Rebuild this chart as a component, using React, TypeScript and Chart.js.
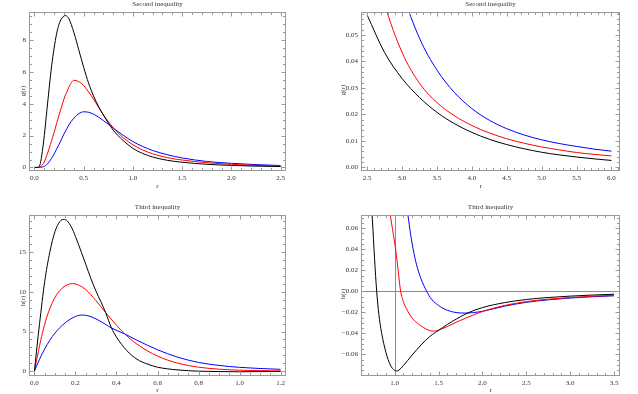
import { useEffect, useRef } from "react";
import { Chart, registerables } from "chart.js";

Chart.register(...registerables);

const PAGE_W = 638;
const PAGE_H = 394;

// ---------------- Panel 1: Second inequality, r in [0, 2.5] ----------------
const p1R = [0, 0.04, 0.06, 0.08, 0.1, 0.125, 0.15, 0.175, 0.2, 0.225, 0.25, 0.275, 0.3, 0.315, 0.33, 0.35, 0.4, 0.45, 0.5, 0.55, 0.6, 0.65, 0.7, 0.75, 0.8, 0.85, 0.9, 1.0, 1.1, 1.2, 1.35, 1.5, 1.75, 2.0, 2.25, 2.5];
const p1Black = [0, 0.02, 0.25, 1.0, 2.0, 3.5, 5.0, 6.4, 7.5, 8.4, 9.0, 9.35, 9.52, 9.55, 9.5, 9.35, 8.5, 7.4, 6.3, 5.3, 4.5, 3.85, 3.3, 2.8, 2.35, 2.0, 1.7, 1.2, 0.88, 0.66, 0.45, 0.33, 0.2, 0.13, 0.085, 0.058];
const p1Red = [0, 0, 0.05, 0.15, 0.35, 0.75, 1.2, 1.7, 2.2, 2.75, 3.3, 3.8, 4.3, 4.55, 4.75, 5.05, 5.48, 5.4, 5.15, 4.75, 4.3, 3.8, 3.3, 2.9, 2.5, 2.17, 1.88, 1.43, 1.1, 0.86, 0.62, 0.47, 0.3, 0.2, 0.13, 0.09];
const p1Blue = [0, 0, 0.01, 0.03, 0.07, 0.18, 0.36, 0.58, 0.85, 1.15, 1.45, 1.78, 2.1, 2.28, 2.45, 2.67, 3.1, 3.38, 3.5, 3.47, 3.35, 3.17, 2.95, 2.72, 2.48, 2.25, 2.03, 1.63, 1.32, 1.07, 0.8, 0.6, 0.38, 0.26, 0.18, 0.125];
const p1XTicks = [0, 0.5, 1, 1.5, 2, 2.5];
const p1XLabels = ["0.0", "0.5", "1.0", "1.5", "2.0", "2.5"];
const p1YTicks = [0, 2, 4, 6, 8];
const p1YLabels = ["0", "2", "4", "6", "8"];

// ---------------- Panel 2: Second inequality, r in [2.5, 6] ----------------
const p2R = [2.5, 2.75, 3.0, 3.25, 3.5, 3.75, 4.0, 4.25, 4.5, 4.75, 5.0, 5.25, 5.5, 5.75, 6.0];
const p2Black = [0.0576, 0.0434, 0.0336, 0.0264, 0.0208, 0.0165, 0.0132, 0.0106, 0.0086, 0.007, 0.0057, 0.0047, 0.0039, 0.0032, 0.0026];
const p2Red = [0.09, 0.062, 0.0435, 0.0318, 0.0245, 0.0195, 0.0158, 0.013, 0.0108, 0.0091, 0.0077, 0.0066, 0.0056, 0.0049, 0.0043];
const p2Blue = [0.135, 0.094, 0.067, 0.0488, 0.0368, 0.0283, 0.0222, 0.0178, 0.0146, 0.0122, 0.0104, 0.009, 0.0079, 0.0069, 0.0061];
const p2XTicks = [2.5, 3, 3.5, 4, 4.5, 5, 5.5, 6];
const p2XLabels = ["2.5", "3.0", "3.5", "4.0", "4.5", "5.0", "5.5", "6.0"];
const p2YTicks = [0, 0.01, 0.02, 0.03, 0.04, 0.05];
const p2YLabels = ["0.00", "0.01", "0.02", "0.03", "0.04", "0.05"];

// ---------------- Panel 3: Third inequality, r in [0, 1.2] ----------------
const p3BlackR = [0, 0.01, 0.025, 0.05, 0.075, 0.1, 0.125, 0.143, 0.16, 0.18, 0.2, 0.229, 0.25, 0.275, 0.3, 0.325, 0.347, 0.375, 0.4, 0.45, 0.5, 0.55, 0.6, 0.7, 0.8, 0.9, 1.0, 1.1, 1.2];
const p3Black = [0, 2.5, 6.0, 11.3, 15.0, 17.6, 18.9, 19.15, 18.95, 18.2, 17.0, 15.0, 13.5, 11.7, 10.1, 8.7, 7.4, 5.5, 4.3, 2.6, 1.5, 0.9, 0.5, 0.15, 0.0, -0.05, -0.08, -0.06, -0.04];
const p3RedR = [0, 0.02, 0.04, 0.06, 0.08, 0.1, 0.125, 0.15, 0.185, 0.22, 0.25, 0.3, 0.347, 0.4, 0.44, 0.5, 0.6, 0.7, 0.8, 0.9, 1.0, 1.1, 1.2];
const p3Red = [0, 2.6, 4.9, 6.8, 8.2, 9.3, 10.2, 10.75, 11.05, 10.8, 10.3, 8.9, 7.4, 5.8, 4.7, 3.4, 1.9, 1.0, 0.5, 0.25, 0.12, 0.06, 0.03];
const p3BlueR = [0, 0.025, 0.05, 0.075, 0.1, 0.15, 0.2, 0.229, 0.26, 0.3, 0.35, 0.375, 0.44, 0.5, 0.6, 0.7, 0.8, 0.9, 1.0, 1.1, 1.2];
const p3Blue = [0, 1.5, 2.8, 3.9, 4.8, 6.1, 6.9, 7.08, 7.0, 6.6, 5.85, 5.45, 4.7, 3.9, 2.7, 1.75, 1.1, 0.72, 0.48, 0.33, 0.23];
const p3XTicks = [0, 0.2, 0.4, 0.6, 0.8, 1.0, 1.2];
const p3XLabels = ["0.0", "0.2", "0.4", "0.6", "0.8", "1.0", "1.2"];
const p3YTicks = [0, 5, 10, 15];
const p3YLabels = ["0", "5", "10", "15"];

// ---------------- Panel 4: Third inequality, r in [0.7, 3.5] ----------------
const p4BlackR = [0.72, 0.746, 0.77, 0.795, 0.82, 0.85, 0.9, 0.95, 1.0, 1.02, 1.05, 1.1, 1.2, 1.3, 1.4, 1.53, 1.6, 1.7, 1.835, 2.0, 2.25, 2.5, 2.75, 3.0, 3.25, 3.5];
const p4Black = [0.1, 0.068, 0.032, 0.0, -0.022, -0.039, -0.058, -0.07, -0.0752, -0.0757, -0.0748, -0.0705, -0.0605, -0.051, -0.043, -0.0355, -0.0315, -0.0265, -0.0205, -0.0155, -0.0108, -0.0078, -0.0059, -0.0046, -0.0036, -0.0028];
const p4RedR = [0.93, 0.95, 1.0, 1.03, 1.068, 1.1, 1.15, 1.2, 1.27, 1.33, 1.4, 1.45, 1.5, 1.6, 1.7, 1.8, 2.0, 2.25, 2.5, 2.75, 3.0, 3.25, 3.5];
const p4Red = [0.082, 0.072, 0.046, 0.027, 0.0, -0.01, -0.019, -0.0255, -0.031, -0.0345, -0.0373, -0.0378, -0.0368, -0.0335, -0.0295, -0.0258, -0.0192, -0.0135, -0.0098, -0.0075, -0.0059, -0.0047, -0.0038];
const p4BlueR = [1.13, 1.152, 1.18, 1.22, 1.26, 1.3, 1.364, 1.42, 1.5, 1.6, 1.7, 1.8, 1.9, 2.0, 2.25, 2.5, 2.75, 3.0, 3.25, 3.5];
const p4Blue = [0.085, 0.072, 0.055, 0.036, 0.022, 0.012, 0.0, -0.0075, -0.0135, -0.018, -0.0202, -0.0207, -0.0202, -0.019, -0.0142, -0.0105, -0.0081, -0.0064, -0.0052, -0.0043];
const p4XTicks = [1, 1.5, 2, 2.5, 3, 3.5];
const p4XLabels = ["1.0", "1.5", "2.0", "2.5", "3.0", "3.5"];
const p4YTicks = [-0.06, -0.04, -0.02, 0, 0.02, 0.04, 0.06];
const p4YLabels = ["\u22120.06", "\u22120.04", "\u22120.02", "0.00", "0.02", "0.04", "0.06"];

// ---------------- styles ----------------
const BLACK = "#000000";
const RED = "#ff0000";
const BLUE = "#0000ff";
const FRAME_COLOR = "#9a9a9a";
const AXIS_COLOR = "#8a8a8a";
const TEXT_COLOR = "#333333";
const FONT_FAMILY = '"Liberation Serif", "DejaVu Serif", serif';
const FONT_SIZE = 7;
const Y_AXIS_W = 28;
const X_AXIS_H = 14;

type Series = { xs: number[]; ys: number[]; color: string };
type Panel = {
  frame: [number, number, number, number];
  xRange: [number, number];
  yRange: [number, number];
  xTicks: number[];
  xLabels: string[];
  yTicks: number[];
  yLabels: string[];
  xMinor: number;
  yMinor: number;
  title: string;
  titlePos: [number, number];
  xTitle: string;
  xTitlePos: [number, number];
  yTitle: string;
  yTitlePos: [number, number];
  axesOrigin?: [number, number];
  series: Series[];
};

const PANELS: Panel[] = [
  {
    frame: [29.5, 12.5, 285.5, 170.5],
    xRange: [-0.05, 2.55],
    yRange: [-0.19, 9.74],
    xTicks: p1XTicks, xLabels: p1XLabels, yTicks: p1YTicks, yLabels: p1YLabels,
    xMinor: 0.1, yMinor: 0.5,
    title: "Second inequality", titlePos: [157.5, 4.5],
    xTitle: "r", xTitlePos: [157.5, 186.5],
    yTitle: "g(r)", yTitlePos: [23, 91],
    series: [
      { xs: p1R, ys: p1Black, color: BLACK },
      { xs: p1R, ys: p1Red, color: RED },
      { xs: p1R, ys: p1Blue, color: BLUE },
    ],
  },
  {
    frame: [361.5, 12.5, 619.5, 170.5],
    xRange: [2.42, 6.115],
    yRange: [-0.0012, 0.0585],
    xTicks: p2XTicks, xLabels: p2XLabels, yTicks: p2YTicks, yLabels: p2YLabels,
    xMinor: 0.1, yMinor: 0.002,
    title: "Second inequality", titlePos: [490.5, 4.5],
    xTitle: "r", xTitlePos: [481, 186.5],
    yTitle: "g(r)", yTitlePos: [343, 90],
    series: [
      { xs: p2R, ys: p2Black, color: BLACK },
      { xs: p2R, ys: p2Red, color: RED },
      { xs: p2R, ys: p2Blue, color: BLUE },
    ],
  },
  {
    frame: [29.5, 215.5, 285.5, 375.5],
    xRange: [-0.024, 1.224],
    yRange: [-0.55, 19.64],
    xTicks: p3XTicks, xLabels: p3XLabels, yTicks: p3YTicks, yLabels: p3YLabels,
    xMinor: 0.05, yMinor: 1,
    title: "Third inequality", titlePos: [157.5, 207],
    xTitle: "r", xTitlePos: [157.5, 390.5],
    yTitle: "h(r)", yTitlePos: [23, 301],
    series: [
      { xs: p3BlackR, ys: p3Black, color: BLACK },
      { xs: p3RedR, ys: p3Red, color: RED },
      { xs: p3BlueR, ys: p3Blue, color: BLUE },
    ],
  },
  {
    frame: [361.5, 215.5, 619.5, 375.5],
    xRange: [0.622, 3.562],
    yRange: [-0.08, 0.072],
    xTicks: p4XTicks, xLabels: p4XLabels, yTicks: p4YTicks, yLabels: p4YLabels,
    xMinor: 0.1, yMinor: 0.005,
    title: "Third inequality", titlePos: [490.5, 207],
    xTitle: "r", xTitlePos: [491, 390.5],
    yTitle: "h(r)", yTitlePos: [343, 294],
    axesOrigin: [1, 0],
    series: [
      { xs: p4BlackR, ys: p4Black, color: BLACK },
      { xs: p4RedR, ys: p4Red, color: RED },
      { xs: p4BlueR, ys: p4Blue, color: BLUE },
    ],
  },
];

function minorValues(min: number, max: number, step: number): number[] {
  const out: number[] = [];
  const start = Math.ceil(min / step - 1e-9);
  const end = Math.floor(max / step + 1e-9);
  for (let k = start; k <= end; k++) out.push(k * step);
  return out;
}

const framePlugin = {
  id: "mmaFrame",
  beforeDatasetsDraw(chart: any) {
    const p: Panel = chart.config.options.plugins.mmaFrame.panel;
    if (!p.axesOrigin) return;
    const { ctx, chartArea: a, scales } = chart;
    const px = Math.round(scales.x.getPixelForValue(p.axesOrigin[0])) + 0.5;
    const py = Math.round(scales.y.getPixelForValue(p.axesOrigin[1])) + 0.5;
    ctx.save();
    ctx.strokeStyle = AXIS_COLOR;
    ctx.lineWidth = 1;
    ctx.beginPath();
    ctx.moveTo(a.left, py);
    ctx.lineTo(a.right, py);
    ctx.moveTo(px, a.top);
    ctx.lineTo(px, a.bottom);
    ctx.stroke();
    ctx.restore();
  },
  afterDraw(chart: any) {
    const p: Panel = chart.config.options.plugins.mmaFrame.panel;
    const { ctx, chartArea: a, scales } = chart;
    const xs = scales.x;
    const ys = scales.y;
    ctx.save();
    ctx.strokeStyle = FRAME_COLOR;
    ctx.lineWidth = 1;
    ctx.strokeRect(a.left, a.top, a.right - a.left, a.bottom - a.top);
    const MAJ = 4;
    const MIN = 2.5;
    ctx.beginPath();
    const drawX = (v: number, len: number) => {
      const x = Math.round(xs.getPixelForValue(v)) + 0.5;
      if (x < a.left || x > a.right) return;
      ctx.moveTo(x, a.bottom);
      ctx.lineTo(x, a.bottom - len);
      ctx.moveTo(x, a.top);
      ctx.lineTo(x, a.top + len);
    };
    const drawY = (v: number, len: number) => {
      const y = Math.round(ys.getPixelForValue(v)) + 0.5;
      if (y < a.top || y > a.bottom) return;
      ctx.moveTo(a.left, y);
      ctx.lineTo(a.left + len, y);
      ctx.moveTo(a.right, y);
      ctx.lineTo(a.right - len, y);
    };
    const isMajor = (v: number, arr: number[], step: number) =>
      arr.some((t) => Math.abs(t - v) < step * 0.01);
    minorValues(p.xRange[0], p.xRange[1], p.xMinor).forEach((v) => {
      if (!isMajor(v, p.xTicks, p.xMinor)) drawX(v, MIN);
    });
    minorValues(p.yRange[0], p.yRange[1], p.yMinor).forEach((v) => {
      if (!isMajor(v, p.yTicks, p.yMinor)) drawY(v, MIN);
    });
    p.xTicks.forEach((v) => drawX(v, MAJ));
    p.yTicks.forEach((v) => drawY(v, MAJ));
    ctx.stroke();

    ctx.fillStyle = TEXT_COLOR;
    ctx.font = `${FONT_SIZE}px ${FONT_FAMILY}`;
    ctx.textAlign = "center";
    ctx.textBaseline = "middle";
    ctx.fillText(p.title, p.titlePos[0], p.titlePos[1]);
    ctx.fillText(p.xTitle, p.xTitlePos[0], p.xTitlePos[1]);
    ctx.translate(p.yTitlePos[0], p.yTitlePos[1]);
    ctx.rotate(-Math.PI / 2);
    ctx.fillText(p.yTitle, 0, 0);
    ctx.restore();
  },
};

function makeConfig(p: Panel): any {
  const tickFont = { family: FONT_FAMILY, size: FONT_SIZE };
  return {
    type: "scatter",
    data: {
      datasets: p.series.map((s) => ({
        data: s.xs.map((x, i) => ({ x, y: s.ys[i] })),
        showLine: true,
        borderColor: s.color,
        backgroundColor: s.color,
        borderWidth: 1,
        pointRadius: 0,
        cubicInterpolationMode: "monotone",
        fill: false,
      })),
    },
    options: {
      animation: false,
      responsive: false,
      events: [],
      layout: {
        padding: {
          left: p.frame[0] - Y_AXIS_W,
          top: p.frame[1],
          right: PAGE_W - p.frame[2],
          bottom: PAGE_H - p.frame[3] - X_AXIS_H,
        },
      },
      plugins: {
        legend: { display: false },
        tooltip: { enabled: false },
        title: { display: false },
        mmaFrame: { panel: p },
      },
      scales: {
        x: {
          type: "linear",
          min: p.xRange[0],
          max: p.xRange[1],
          afterFit: (s: any) => {
            s.height = X_AXIS_H;
          },
          afterBuildTicks: (s: any) => {
            s.ticks = p.xTicks.map((v) => ({ value: v }));
          },
          grid: { display: false, drawTicks: false },
          border: { display: false },
          ticks: {
            callback: (_v: any, i: number) => p.xLabels[i],
            font: tickFont,
            color: TEXT_COLOR,
            padding: 3,
            maxRotation: 0,
            minRotation: 0,
            autoSkip: false,
          },
        },
        y: {
          type: "linear",
          min: p.yRange[0],
          max: p.yRange[1],
          afterFit: (s: any) => {
            s.width = Y_AXIS_W;
          },
          afterBuildTicks: (s: any) => {
            s.ticks = p.yTicks.map((v) => ({ value: v }));
          },
          grid: { display: false, drawTicks: false },
          border: { display: false },
          ticks: {
            callback: (_v: any, i: number) => p.yLabels[i],
            font: tickFont,
            color: TEXT_COLOR,
            padding: 3.5,
            autoSkip: false,
          },
        },
      },
    },
    plugins: [framePlugin],
  };
}

export default function App() {
  const canvases = useRef<(HTMLCanvasElement | null)[]>([]);
  useEffect(() => {
    const charts = PANELS.map((p, i) => new Chart(canvases.current[i] as HTMLCanvasElement, makeConfig(p)));
    return () => charts.forEach((c) => c.destroy());
  }, []);
  return (
    <div
      style={{
        position: "absolute",
        left: 0,
        top: 0,
        width: PAGE_W,
        height: PAGE_H,
        background: "#ffffff",
        overflow: "hidden",
      }}
    >
      {PANELS.map((_p, i) => (
        <canvas
          key={i}
          ref={(el) => {
            canvases.current[i] = el;
          }}
          width={PAGE_W}
          height={PAGE_H}
          style={{ position: "absolute", left: 0, top: 0, width: PAGE_W, height: PAGE_H }}
        />
      ))}
    </div>
  );
}
